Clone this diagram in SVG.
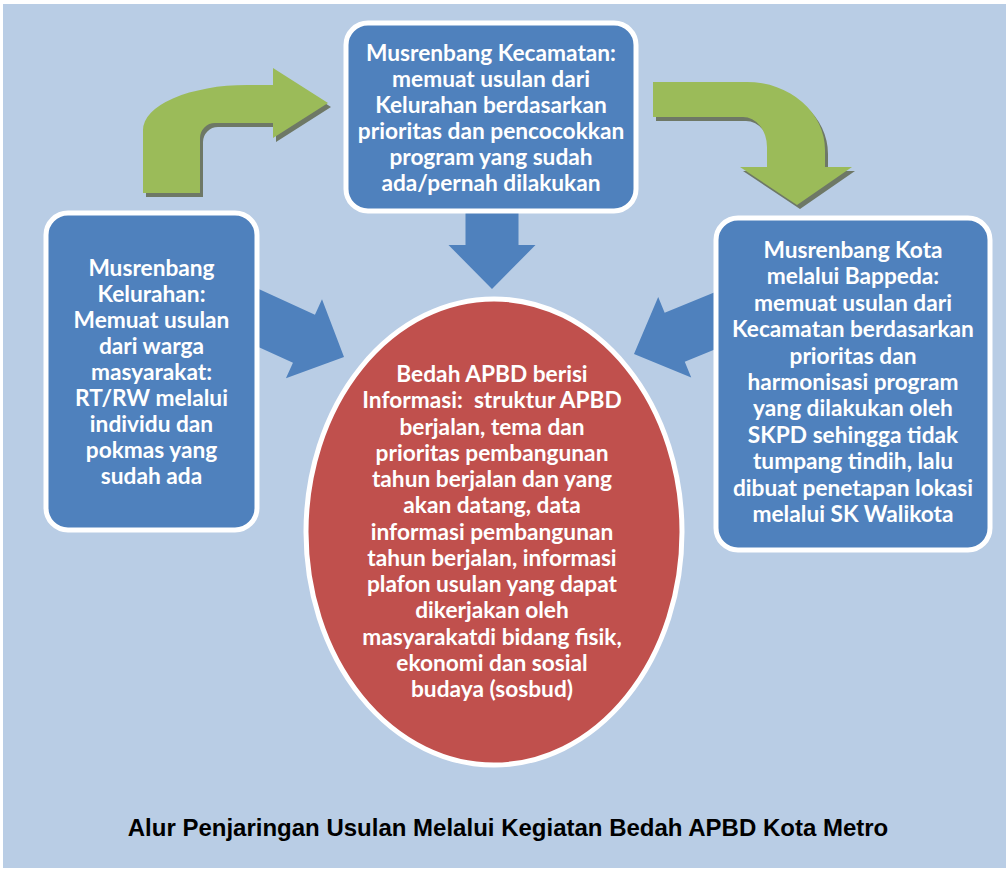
<svg xmlns="http://www.w3.org/2000/svg" width="1008" height="872" viewBox="0 0 1008 872">
<style>
.box{fill:#4F81BD;stroke:#fff;stroke-width:5}
.ell{fill:#C0504D;stroke:#fff;stroke-width:5}
.barrow{fill:#4F81BD}
.garrow{fill:#9BBB59}
.gshadow{fill:#6E7866}
.t{font-family:Lato,"Open Sans",sans-serif;font-weight:700;font-size:22.7px;fill:#fff;text-anchor:middle}
.title{font-family:"Liberation Sans",Arial,sans-serif;font-weight:700;font-size:24px;fill:#000;text-anchor:middle}
</style>
<defs>
<path id="blueArrow" d="M-110,-26.5 L-44,-26.5 L-44,-43.5 L0,0 L-44,43.5 L-44,26.5 L-110,26.5 Z"/>
</defs>
<rect x="0" y="0" width="1008" height="872" fill="#fff"/>
<rect x="3" y="4" width="1003" height="864" fill="#B9CDE5"/>
<g id="connectors">
<g id="green-left">
<path class="gshadow" transform="translate(3,4)" d="M143,193 L143,130 A104,45 0 0 1 247,85 L273,85 L273,68 L328,103 L273,138 L273,123 L215,123 A15,15 0 0 0 200,138 L200,193 Z"/>
<path class="garrow" d="M143,193 L143,130 A104,45 0 0 1 247,85 L273,85 L273,68 L328,103 L273,138 L273,123 L215,123 A15,15 0 0 0 200,138 L200,193 Z"/>
</g>
<g id="green-right">
<path class="gshadow" transform="translate(3,4)" d="M653,82 L747,82 A78,68 0 0 1 825,150 L825,167 L852,167 L797,205 L740,167 L767,167 L767,147 A24,30 0 0 0 743,117 L653,117 Z"/>
<path class="garrow" d="M653,82 L747,82 A78,68 0 0 1 825,150 L825,167 L852,167 L797,205 L740,167 L767,167 L767,147 A24,30 0 0 0 743,117 L653,117 Z"/>
</g>
<use href="#blueArrow" class="barrow" transform="translate(492,289) rotate(90)"/>
<use href="#blueArrow" class="barrow" transform="translate(344,357) rotate(24.5)"/>
<use href="#blueArrow" class="barrow" transform="translate(634,354) rotate(157.7)"/>
</g>
<g id="node-kecamatan">
<rect class="box" x="346" y="23" width="290" height="188" rx="22"/>
<text class="t"><tspan x="491" y="61">Musrenbang Kecamatan:</tspan><tspan x="491" y="87">memuat usulan dari</tspan><tspan x="491" y="113">Kelurahan berdasarkan</tspan><tspan x="491" y="139">prioritas dan pencocokkan</tspan><tspan x="491" y="165">program yang sudah</tspan><tspan x="491" y="191">ada/pernah dilakukan</tspan></text>
</g>
<g id="node-kelurahan">
<rect class="box" x="46" y="213" width="211" height="317" rx="22"/>
<text class="t"><tspan x="151.5" y="276">Musrenbang</tspan><tspan x="151.5" y="302">Kelurahan:</tspan><tspan x="151.5" y="328">Memuat usulan</tspan><tspan x="151.5" y="354">dari warga</tspan><tspan x="151.5" y="380">masyarakat:</tspan><tspan x="151.5" y="406">RT/RW melalui</tspan><tspan x="151.5" y="432">individu dan</tspan><tspan x="151.5" y="458">pokmas yang</tspan><tspan x="151.5" y="484">sudah ada</tspan></text>
</g>
<g id="node-kota">
<rect class="box" x="716" y="218" width="274" height="332" rx="22"/>
<text class="t"><tspan x="853" y="258">Musrenbang Kota</tspan><tspan x="853" y="284.4">melalui Bappeda:</tspan><tspan x="853" y="310.8">memuat usulan dari</tspan><tspan x="853" y="337.2">Kecamatan berdasarkan</tspan><tspan x="853" y="363.6">prioritas dan</tspan><tspan x="853" y="390">harmonisasi program</tspan><tspan x="853" y="416.4">yang dilakukan oleh</tspan><tspan x="853" y="442.8">SKPD sehingga tidak</tspan><tspan x="853" y="469.2">tumpang tindih, lalu</tspan><tspan x="853" y="495.6">dibuat penetapan lokasi</tspan><tspan x="853" y="522">melalui SK Walikota</tspan></text>
</g>
<g id="node-bedah">
<ellipse class="ell" cx="494" cy="532" rx="188" ry="233"/>
<text class="t"><tspan x="492" y="382">Bedah APBD berisi</tspan><tspan x="492" y="408.25">Informasi:&#160; struktur APBD</tspan><tspan x="492" y="434.5">berjalan, tema dan</tspan><tspan x="492" y="460.75">prioritas pembangunan</tspan><tspan x="492" y="487">tahun berjalan dan yang</tspan><tspan x="492" y="513.25">akan datang, data</tspan><tspan x="492" y="539.5">informasi pembangunan</tspan><tspan x="492" y="565.75">tahun berjalan, informasi</tspan><tspan x="492" y="592">plafon usulan yang dapat</tspan><tspan x="492" y="618.25">dikerjakan oleh</tspan><tspan x="492" y="644.5">masyarakatdi bidang fisik,</tspan><tspan x="492" y="670.75">ekonomi dan sosial</tspan><tspan x="492" y="697">budaya (sosbud)</tspan></text>
</g>
<text id="caption" class="title" x="508" y="836">Alur Penjaringan Usulan Melalui Kegiatan Bedah APBD Kota Metro</text>
</svg>
